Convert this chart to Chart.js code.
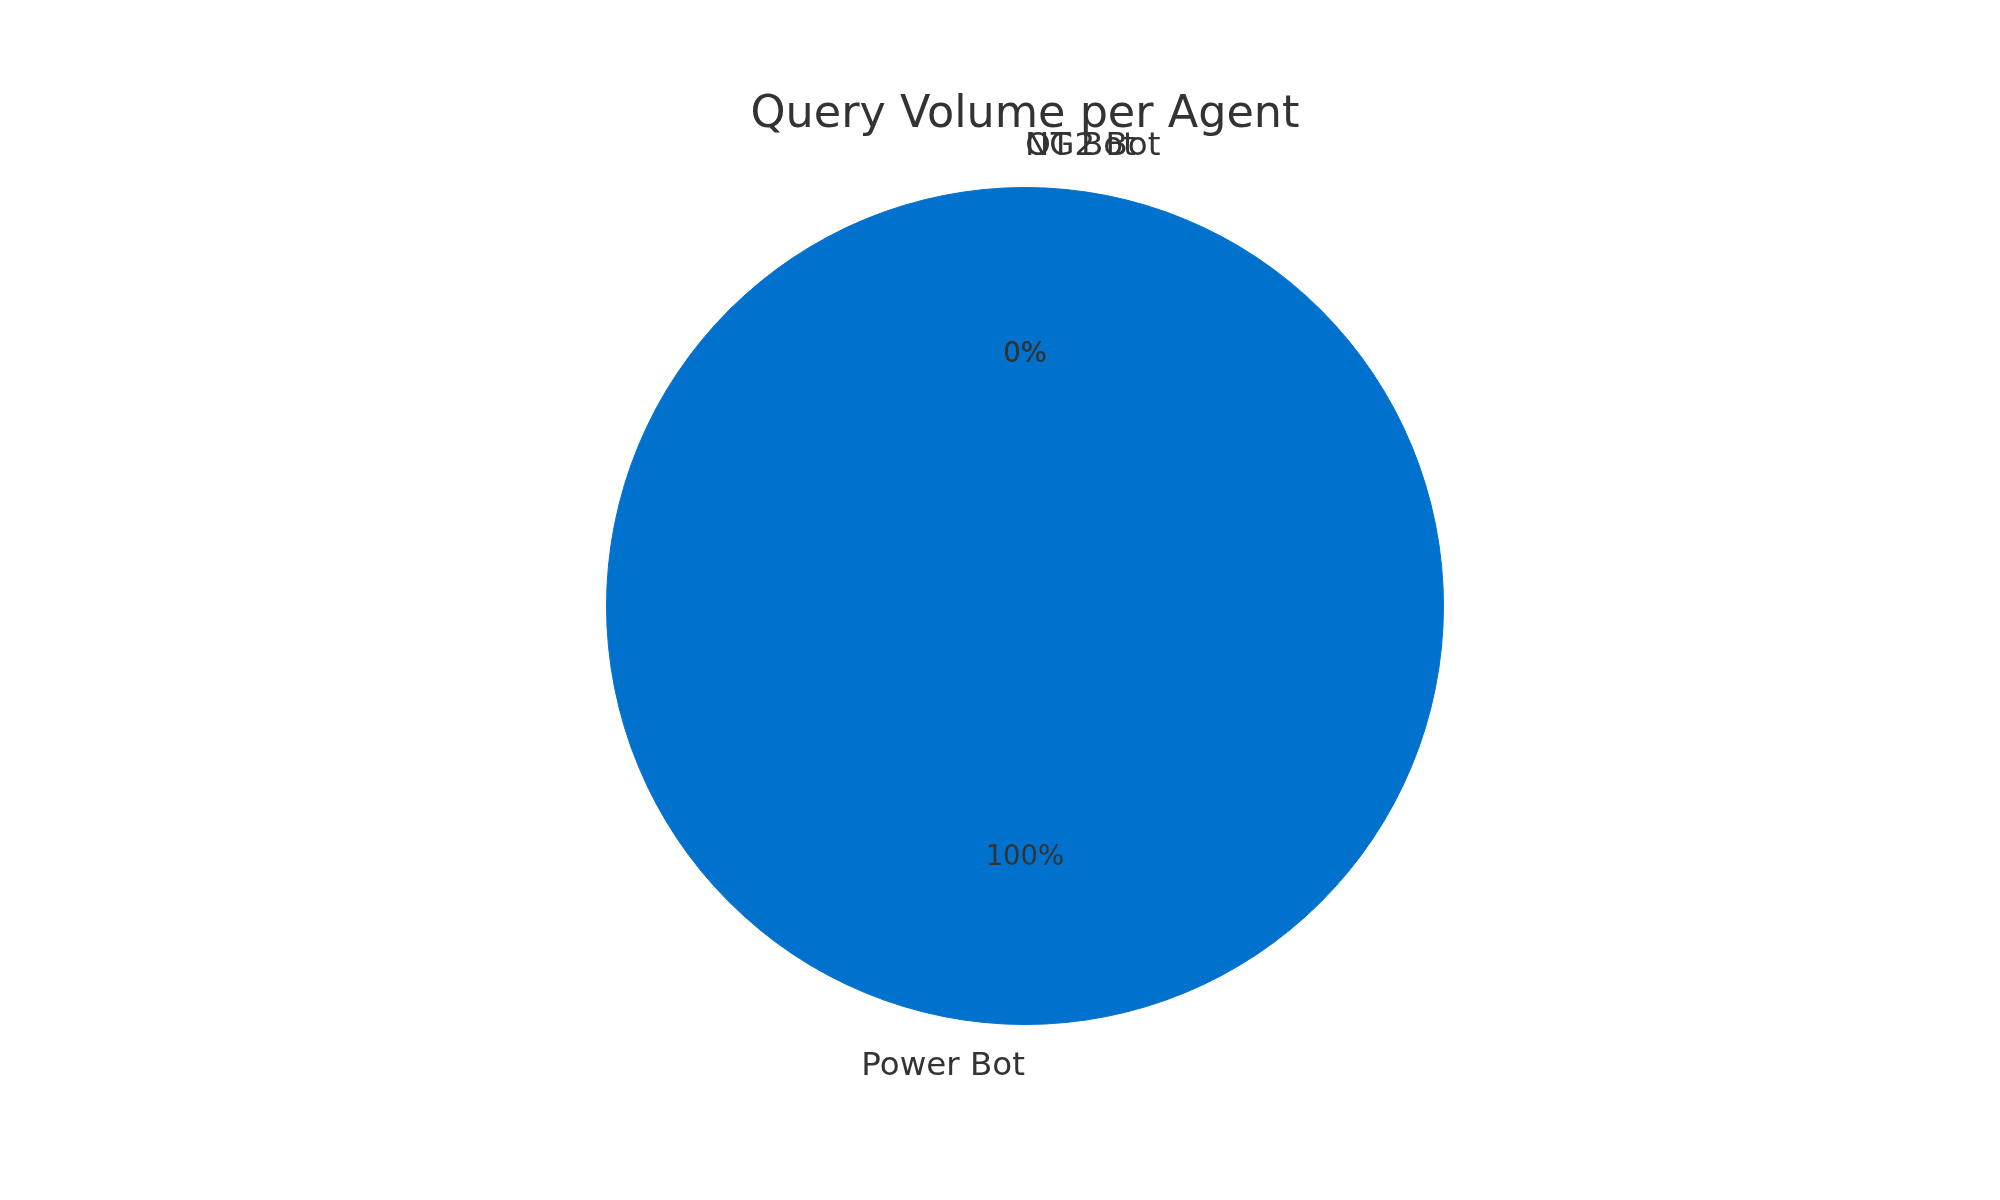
<!DOCTYPE html>
<html>
<head>
<meta charset="utf-8">
<title>Query Volume per Agent</title>
<script src="https://cdn.jsdelivr.net/npm/chart.js@4/dist/chart.umd.min.js"></script>
<style>
  html, body { margin: 0; padding: 0; background: #ffffff; }
  #wrap { width: 2000px; height: 1200px; position: relative; }
</style>
</head>
<body>
<div id="wrap"><canvas id="chartPie"></canvas></div>
<script>
// agents in drawing order (clockwise from the top)
const agents = ['NG2 Bot', 'OT Bot', 'Power Bot'];
const queries = [1, 1, 24500];
const sliceColors = ['#0072ce', '#0072ce', '#0072ce'];

const titleText = 'Query Volume per Agent';
const textColor = '#333333';
const fontFamily = '"DejaVu Sans", sans-serif';

// draws title, outside labels and percentages the way the original did
const pieText = {
    id: 'pieText',
    afterDatasetsDraw(chart) {
        const ctx = chart.ctx;
        const meta = chart.getDatasetMeta(0);
        const total = queries.reduce((a, b) => a + b, 0);
        ctx.save();
        ctx.fillStyle = textColor;

        ctx.font = '44.5px ' + fontFamily;
        ctx.textAlign = 'center';
        ctx.textBaseline = 'alphabetic';
        ctx.fillText(titleText, 1025, 127);

        meta.data.forEach(function (arc, i) {
            const p = arc.getProps(['x', 'y', 'startAngle', 'endAngle', 'outerRadius'], true);
            const mid = (p.startAngle + p.endAngle) / 2;
            const cx = Math.cos(mid), cy = Math.sin(mid);

            ctx.font = '32.5px ' + fontFamily;
            ctx.textAlign = cx > 0 ? 'left' : 'right';
            ctx.fillText(agents[i], p.x + 1.1 * p.outerRadius * cx, p.y + 1.1 * p.outerRadius * cy + 9);

            ctx.font = '27.5px ' + fontFamily;
            ctx.textAlign = 'center';
            const pct = Math.round(queries[i] / total * 100) + '%';
            ctx.fillText(pct, p.x + 0.6 * p.outerRadius * cx, p.y + 0.6 * p.outerRadius * cy + 7.5);
        });
        ctx.restore();
    }
};

const ctx = document.getElementById('chartPie').getContext('2d');
const myChart = new Chart(ctx, {
    type: 'pie',
    data: {
        labels: agents,
        datasets: [{
            data: queries,
            backgroundColor: sliceColors,
            borderColor: sliceColors,
            borderWidth: 1
        }]
    },
    options: {
        responsive: true,
        maintainAspectRatio: false,
        animation: false,
        layout: {
            padding: { top: 187, bottom: 175, left: 606, right: 556 }
        },
        plugins: {
            legend: { display: false },
            title: { display: false },
            tooltip: { enabled: false }
        }
    },
    plugins: [pieText]
});
</script>
</body>
</html>
